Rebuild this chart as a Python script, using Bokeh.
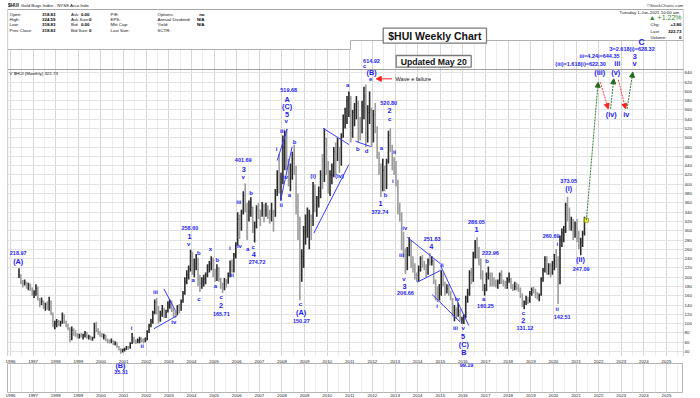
from bokeh.plotting import figure
from bokeh.models import (Range1d, ColumnDataSource, LabelSet, FixedTicker, Grid, Span,
                          Arrow, NormalHead, LinearAxis)
from bokeh.layouts import column
from bokeh.core.properties import value, field
from bokeh.embed import file_html
from bokeh.resources import INLINE

FONT = "Liberation Sans"
BLUE = "#1c1cf0"

# ---------------- monthly $HUI bars, May 1996 .. Jun 2021 ----------------
START_YEAR, START_MONTH = 1996, 5
HIGH = [
    219, 206, 194, 195, 190, 188, 186, 178,                                   # 1996
    172, 185, 180, 155, 156, 150, 145, 148, 158, 150, 124, 106,               # 1997
    110, 108, 106, 124, 120, 106, 100, 92, 94, 90, 86, 80,                    # 1998
    78, 80, 78, 84, 82, 76, 74, 72, 102, 104, 90, 84,                         # 1999
    80, 78, 76, 68, 66, 68, 64, 62, 60, 52, 47, 46,                           # 2000
    48, 52, 52, 60, 80, 72, 66, 68, 72, 70, 68, 70,                           # 2001
    86, 100, 110, 128, 152, 155, 138, 128, 140, 134, 130, 148,                # 2002
    152, 150, 134, 128, 140, 142, 152, 170, 200, 215, 225, 259,               # 2003
    255, 240, 250, 242, 205, 200, 205, 210, 228, 235, 245, 242,               # 2004
    218, 228, 222, 198, 188, 198, 196, 210, 236, 238, 252, 275,               # 2005
    340, 335, 345, 385, 401.69, 360, 365, 372, 352, 320, 355, 360,            # 2006
    345, 362, 358, 360, 355, 345, 360, 345, 390, 430, 465, 425,               # 2007
    505, 515, 519.68, 455, 445, 470, 485, 440, 380, 330, 260, 310,            # 2008
    335, 350, 345, 335, 405, 400, 375, 395, 430, 465, 520, 500,               # 2009
    450, 430, 445, 480, 490, 500, 480, 510, 550, 565, 590, 600,               # 2010
    590, 560, 575, 590, 580, 545, 580, 610, 614.92, 570, 600, 565,            # 2011
    560, 575, 525, 470, 445, 455, 440, 455, 515, 520.80, 485, 458,            # 2012
    450, 410, 360, 340, 298, 262, 265, 286, 280, 245, 230, 210,               # 2013
    225, 245, 248, 235, 228, 240, 251.83, 245, 238, 195, 180, 185,            # 2014
    215, 210, 190, 185, 185, 170, 155, 140, 135, 145, 132, 115,               # 2015
    120, 160, 175, 215, 220, 255, 280, 286.05, 265, 240, 215, 185,            # 2016
    210, 222.96, 210, 210, 200, 195, 195, 210, 215, 195, 192, 200,            # 2017
    210, 198, 185, 190, 188, 185, 178, 165, 150, 160, 158, 170,               # 2018
    178, 180, 175, 168, 165, 200, 220, 245, 245, 230, 230, 235,               # 2019
    250, 260.69, 245, 290, 305, 310, 360, 373.05, 350, 330, 325, 320,         # 2020
    325, 300, 285, 300, 330, 324.59,                                          # 2021
]
LOW = [
    198, 185, 178, 182, 175, 172, 170, 160,
    155, 160, 150, 135, 140, 132, 128, 130, 128, 118, 92, 88,
    92, 95, 94, 100, 100, 92, 86, 60, 64, 74, 72, 68,
    68, 70, 66, 70, 68, 66, 64, 63, 68, 82, 76, 72,
    70, 66, 62, 58, 57, 58, 54, 53, 48, 42, 35.31, 38,
    40, 43, 44, 46, 56, 58, 56, 58, 58, 60, 57, 60,
    64, 80, 92, 100, 120, 120, 100, 104, 115, 112, 112, 124,
    132, 125, 114, 112, 118, 122, 128, 145, 162, 185, 195, 212,
    205, 200, 215, 180, 168, 175, 180, 185, 200, 210, 215, 200,
    190, 192, 190, 175, 165.71, 172, 178, 186, 200, 210, 210, 240,
    268, 282, 300, 335, 340, 280, 320, 330, 295, 274.72, 305, 325,
    310, 330, 318, 330, 325, 315, 320, 298, 330, 375, 380, 365,
    400, 430, 430, 395, 385, 410, 420, 335, 280, 150.27, 190, 220,
    270, 285, 260, 280, 310, 340, 330, 350, 370, 390, 405, 420,
    380, 375, 400, 415, 420, 450, 425, 440, 500, 520, 530, 545,
    490, 500, 525, 540, 490, 495, 510, 540, 480, 490, 530, 480,
    490, 510, 455, 420, 372.74, 385, 385, 390, 445, 470, 430, 420,
    395, 335, 320, 258, 242, 206.66, 215, 245, 220, 210, 195, 190,
    190, 212, 220, 215, 200, 205, 225, 225, 185, 150, 146, 150,
    160, 180, 160, 165, 160, 150, 115, 105, 110, 115, 105, 100,
    99.19, 112, 145, 160, 185, 190, 240, 240, 225, 195, 170, 160.25,
    170, 195, 180, 180, 180, 178, 175, 185, 185, 180, 175, 175,
    188, 175, 170, 172, 172, 168, 155, 135, 131.12, 140, 142, 145,
    160, 165, 155, 152, 148, 160, 190, 210, 205, 205, 200, 205,
    215, 220, 142.51, 185, 265, 275, 295, 320, 300, 300, 280, 285,
    275, 260, 247.09, 265, 290, 318.83,
]
CLOSE = [
    205, 190, 186, 188, 180, 184, 175, 165,
    168, 176, 152, 145, 148, 136, 140, 134, 150, 122, 98, 100,
    104, 99, 102, 116, 104, 96, 90, 66, 86, 80, 76, 72,
    74, 72, 75, 80, 70, 72, 68, 70, 95, 86, 80, 75,
    72, 74, 64, 62, 60, 62, 56, 58, 50, 44, 40, 44,
    45, 50, 47, 56, 70, 62, 60, 64, 66, 64, 62, 66,
    82, 96, 104, 124, 146, 135, 110, 120, 132, 118, 124, 140,
    146, 130, 122, 120, 136, 130, 148, 165, 190, 205, 218, 254,
    220, 228, 240, 195, 186, 190, 196, 205, 224, 228, 238, 215,
    198, 220, 196, 180, 178, 192, 190, 205, 232, 212, 248, 268,
    325, 310, 340, 375, 355, 330, 340, 350, 305, 310, 345, 340,
    335, 345, 340, 345, 335, 325, 340, 335, 385, 425, 400, 415,
    480, 505, 450, 410, 430, 455, 440, 350, 330, 205, 245, 300,
    300, 310, 320, 310, 395, 355, 370, 385, 420, 410, 490, 435,
    395, 420, 420, 470, 465, 480, 450, 505, 545, 555, 580, 585,
    510, 555, 560, 575, 540, 520, 570, 590, 510, 555, 560, 500,
    550, 520, 460, 430, 410, 430, 400, 450, 505, 480, 465, 435,
    400, 345, 335, 270, 255, 225, 255, 270, 230, 225, 200, 195,
    215, 240, 225, 222, 205, 235, 232, 235, 190, 165, 160, 165,
    205, 185, 170, 175, 165, 155, 120, 130, 120, 130, 108, 110,
    115, 155, 165, 210, 200, 250, 270, 245, 235, 205, 175, 175,
    200, 205, 195, 190, 188, 182, 190, 205, 190, 185, 180, 195,
    195, 180, 178, 180, 176, 172, 160, 140, 145, 155, 150, 165,
    172, 170, 165, 160, 160, 195, 215, 238, 215, 225, 210, 230,
    235, 230, 195, 280, 295, 300, 355, 340, 315, 315, 300, 310,
    285, 275, 275, 295, 320, 322.73,
]
assert len(HIGH) == len(LOW) == len(CLOSE)

YEARS = list(range(1996, 2026))
PRICE_TICKS = list(range(40, 641, 20))

# Elliott-wave annotations (year, price)
NUM_LABELS = [
    ("218.97", 1996.34, 252.5), ("258.60", 2003.93, 306.3), ("165.71", 2005.32, 121),
    ("401.69", 2006.29, 451.2), ("274.72", 2006.90, 232.3), ("519.68", 2008.30, 604),
    ("150.27", 2008.86, 106.7), ("614.92", 2011.96, 665), ("520.80", 2012.72, 574.6),
    ("372.74", 2012.33, 341.4), ("206.66", 2013.46, 166.4), ("251.83", 2014.64, 282.6),
    ("286.05", 2016.60, 318.4), ("222.96", 2017.22, 251.6), ("160.25", 2017.00, 137.5),
    ("131.12", 2018.74, 90.2), ("260.69", 2019.90, 289.7), ("142.51", 2020.39, 114),
    ("373.05", 2020.68, 408.1), ("247.09", 2021.23, 218),
    ("(iii)=1.618(i)=622.30", 2021.20, 659.4), ("iii=4.24i=644.35", 2022.04, 677.2),
    ("3=2.618(i)=628.32", 2023.48, 690.2),
]
WAVE_LABELS = [
    ("(A)", 1996.34, 233.8), ("1", 2003.91, 287.6), ("2", 2005.31, 139),
    ("3", 2006.31, 431.2), ("4", 2006.76, 248.8), ("A", 2008.23, 581.9),
    ("(C)", 2008.23, 567.5), ("5", 2008.23, 550.2), ("(A)", 2008.85, 124.6),
    ("(B)", 2011.96, 640), ("1", 2012.36, 358), ("2", 2012.755, 558.8),
    ("3", 2013.42, 180.6), ("4", 2014.60, 266), ("5", 2016.01, 73),
    ("(C)", 2016.04, 55), ("B", 2016.04, 38.5), ("1", 2016.60, 302),
    ("2", 2018.67, 106.7), ("(i)", 2020.68, 390.3), ("(ii)", 2021.20, 237.4),
    ("(iii)", 2022.05, 640), ("(iv)", 2022.56, 550.2), ("(v)", 2022.76, 641.3),
    ("iii", 2022.82, 660.7), ("iv", 2023.22, 550.2), ("3", 2023.60, 675.7),
    ("v", 2023.59, 659.4),
]
BIG_LABELS = [("C", 2023.90, 705.9)]
SUB_LABELS = [
    ("v", 2003.88, 271.9), ("i", 2001.35, 91), ("ii", 2001.82, 50.8), ("iii", 2002.41, 167.7),
    ("iv", 2003.22, 103.1), ("a", 2004.08, 194.4), ("b", 2004.33, 252.5), ("c", 2004.33, 152),
    ("x", 2004.84, 261.1), ("b", 2005.14, 238), ("a", 2005.06, 180.6), ("c", 2005.31, 157),
    ("i", 2005.70, 262.5), ("ii", 2005.80, 205), ("iii", 2006.09, 361), ("iv", 2006.12, 268),
    ("v", 2006.29, 415.2), ("b", 2006.64, 381.7), ("a", 2006.49, 261.1), ("c", 2006.73, 264.6),
    ("i", 2007.76, 476.4), ("ii", 2007.97, 355.8), ("iii", 2008.02, 514.3), ("iv", 2008.16, 415.2),
    ("v", 2008.19, 535.8), ("a", 2008.33, 377.4), ("b", 2008.56, 492), ("c", 2008.82, 141.2),
    ("(i)", 2009.38, 418.3), ("(iv)", 2010.54, 418.3), ("a", 2010.91, 612.7), ("b", 2011.35, 474.9),
    ("c", 2011.66, 654.2), ("d", 2011.74, 470.6), ("e", 2011.92, 627), ("a", 2012.40, 477.7),
    ("b", 2012.58, 377.4), ("c", 2012.76, 541), ("i", 2012.90, 406.6), ("ii", 2012.98, 469.1),
    ("iii", 2013.29, 246.7), ("iv", 2013.43, 306.3), ("v", 2013.39, 196.5), ("i", 2014.86, 139),
    ("ii", 2015.08, 226.6), ("iii", 2015.67, 91), ("iv", 2015.75, 152), ("v", 2016.01, 91),
    ("a", 2016.92, 153.5), ("b", 2017.07, 233.8), ("c", 2018.67, 122.5), ("i", 2020.17, 271.9),
    ("ii", 2020.17, 131.9),
]
# labels printed below the price panel (year, pixels below lower-panel top, size)
LOW_PANEL_LABELS = [("(B)", 2000.86, 1.5, "7.3px"), ("35.31", 2000.89, 8.3, "5.5px"),
                    ("99.19", 2016.16, 1.5, "5.5px")]

# trend lines (x0, y0, x1, y1) in (year, price)
TRENDLINES = [
    (2002.78, 175, 2003.29, 128), (2002.34, 89, 2003.37, 117.5),
    (2007.79, 451, 2008.23, 519), (2007.94, 365, 2008.45, 481),
    (2009.41, 294.7, 2010.96, 442.6), (2009.82, 520.7, 2010.96, 485.6),
    (2011.25, 492.7, 2011.92, 481.3),
    (2013.54, 286, 2015.01, 228.8), (2013.98, 189.2, 2015.01, 214.5),
    (2014.64, 162.7, 2015.89, 103), (2015.01, 225, 2016.26, 96),
]
# projected path
PROJ_UP = [(2021.458, 322.73, 2021.98, 619.8), (2022.53, 562.5, 2022.67, 627.1),
           (2023.26, 562.5, 2023.51, 641.3)]
PROJ_DOWN = [(2022.08, 619.8, 2022.42, 562.5), (2022.87, 624.9, 2023.19, 562.5)]
WAVE_E_ARROW = (2012.87, 627, 2012.17, 627)
WAVE_E_TEXT = ("Wave e failure", 2013.02, 627)

HF = "4.4px"
TXT = "#111111"
# header / box texts in page pixels: (text, x, y, align, style, size, color)
HEADER = [
    ("$HUI", 7.5, 4.6, "left", "bold", "4.7px", "#000000"),
    ("Gold Bugs Index - NYSE Arca Indx", 20.3, 4.6, "left", "normal", HF, TXT),
    ("Open:", 9, 13.7, "left", "normal", HF, TXT),
    ("High:", 9, 19.0, "left", "normal", HF, TXT),
    ("Low:", 9, 24.2, "left", "normal", HF, TXT),
    ("Prev Close:", 9, 29.6, "left", "normal", HF, TXT),
    ("318.83", 55, 13.7, "right", "bold", HF, "#000000"),
    ("324.59", 55, 19.0, "right", "bold", HF, "#000000"),
    ("318.83", 55, 24.2, "right", "bold", HF, "#000000"),
    ("318.83", 55, 29.6, "right", "bold", HF, "#000000"),
    ("Ask:", 70.5, 13.7, "left", "normal", HF, TXT),
    ("Ask Size:", 70.5, 19.0, "left", "normal", HF, TXT),
    ("Bid:", 70.5, 24.2, "left", "normal", HF, TXT),
    ("Bid Size:", 70.5, 29.6, "left", "normal", HF, TXT),
    ("0.00", 89, 13.7, "right", "bold", HF, "#000000"),
    ("0", 91, 19.0, "right", "bold", HF, "#000000"),
    ("0.00", 89, 24.2, "right", "bold", HF, "#000000"),
    ("0", 91, 29.6, "right", "bold", HF, "#000000"),
    ("P/E:", 110, 13.7, "left", "normal", HF, TXT),
    ("EPS:", 110, 19.0, "left", "normal", HF, TXT),
    ("Mkt Cap:", 110, 24.2, "left", "normal", HF, TXT),
    ("Last Size:", 110, 29.6, "left", "normal", HF, TXT),
    ("Options:", 157, 13.7, "left", "normal", HF, TXT),
    ("Annual Dividend:", 157, 19.0, "left", "normal", HF, TXT),
    ("Yield:", 157, 24.2, "left", "normal", HF, TXT),
    ("SCTR:", 157, 29.6, "left", "normal", HF, TXT),
    ("no", 204, 13.7, "right", "bold", HF, "#000000"),
    ("N/A", 204, 19.0, "right", "bold", HF, "#000000"),
    ("N/A", 204, 24.2, "right", "bold", HF, "#000000"),
    ("\u00a9StockCharts.com", 683, 4.8, "right", "normal", HF, "#333333"),
    ("Tuesday  1-Jun-2021  10:00 am", 681, 11.7, "right", "normal", HF, TXT),
    ("\u25b2 +1.22%", 681, 16.8, "right", "normal", "7px", "#2e8b2e"),
    ("Chg:", 650, 24.0, "left", "normal", HF, TXT),
    ("Last:", 650, 30.7, "left", "normal", HF, TXT),
    ("Volume:", 650, 37.2, "left", "normal", HF, TXT),
    ("+3.80", 681, 24.0, "right", "bold", HF, "#000000"),
    ("322.73", 681, 30.7, "right", "bold", HF, "#000000"),
    ("0", 681, 37.2, "right", "bold", HF, "#000000"),
    ("$HUI Weekly Chart", 434.3, 35.4, "center", "bold", "10.5px", "#111111"),
    ("Updated May 20", 433.2, 61.0, "center", "bold", "8.7px", "#111111"),
    ("V $HUI (Monthly) 322.73", 9, 73.0, "left", "normal", HF, TXT),
]
# white header bands and title boxes in page pixels (left, right, top, bottom)
HEADER_BANDS = [(7, 350, 0, 49), (350, 683, 0, 40)]
TITLE_BOXES = [(382.7, 486, 27.7, 42.7), (395.7, 470.7, 55, 66.7)]
HEADER_EDGE_X = [7, 350, 350, 683]
HEADER_EDGE_Y = [49, 49, 40, 40]
TOP_BORDER_X = [7, 7, 683, 683]
TOP_BORDER_Y = [356, 9, 9, 356]
TOP_RULE_PRICE = 647.1

# data ranges of the price frame (page x 7..683, y 0..356)
X0, X1 = 1995.867, 2025.752
Y0, Y1 = 29.24, 795.65

# ---------------- price panel ----------------
p = figure(frame_width=676, frame_height=356, x_range=Range1d(X0, X1), y_range=Range1d(Y0, Y1),
           x_axis_location=None, y_axis_location="right", toolbar_location=None,
           output_backend="svg", min_border=0, min_border_left=7, title=None,
           background_fill_color="white", border_fill_color="white",
           outline_line_color=None)
p.extra_x_ranges = {"px": Range1d(7, 683)}
p.extra_y_ranges = {"px": Range1d(356, 0)}

p.xgrid.visible = False
p.ygrid.visible = False
p.add_layout(Grid(dimension=0, ticker=FixedTicker(ticks=[y + 0.5 for y in YEARS]),
                  grid_line_color="#ededed", grid_line_width=1))
p.add_layout(Grid(dimension=0, ticker=FixedTicker(ticks=YEARS),
                  grid_line_color="#d6d6d6", grid_line_width=1))
p.add_layout(Grid(dimension=1, ticker=FixedTicker(ticks=PRICE_TICKS),
                  grid_line_color="#e3e3e3", grid_line_width=1))

ya = p.yaxis[0]
ya.ticker = FixedTicker(ticks=PRICE_TICKS)
ya.major_label_text_font = FONT
ya.major_label_text_font_size = "4.4px"
ya.major_label_text_color = "#222222"
ya.major_label_standoff = 1
ya.major_tick_out = 0
ya.major_tick_in = 0
ya.minor_tick_out = 0
ya.minor_tick_in = 0
ya.major_tick_line_color = None
ya.minor_tick_line_color = None
ya.axis_line_color = None

p.add_layout(Span(location=TOP_RULE_PRICE, dimension="width", line_color="#a0a0a0", line_width=1))

xs = [START_YEAR + (START_MONTH - 1 + i + 0.5) / 12.0 for i in range(len(CLOSE))]
colors = ["#2b2b2b" if (i == 0 or CLOSE[i] >= CLOSE[i - 1]) else "#9c9c9c" for i in range(len(CLOSE))]
bars = ColumnDataSource(dict(x=xs, xr=[x + 0.42 / 12 for x in xs], high=HIGH, low=LOW,
                             close=CLOSE, color=colors))
p.segment(x0="x", y0="low", x1="x", y1="high", line_color="color", line_width=1.6, source=bars)
p.segment(x0="x", y0="close", x1="xr", y1="close", line_color="color", line_width=1, source=bars)

tl = ColumnDataSource(dict(x0=[t[0] for t in TRENDLINES], y0=[t[1] for t in TRENDLINES],
                           x1=[t[2] for t in TRENDLINES], y1=[t[3] for t in TRENDLINES]))
p.segment(x0="x0", y0="y0", x1="x1", y1="y1", line_color="#3a3aff", line_width=1, source=tl)

# projection
for segs, col, head_col in ((PROJ_UP, "#2f7d2f", "#1f6b1f"), (PROJ_DOWN, "#ff3b3b", "#ff2020")):
    src = ColumnDataSource(dict(x0=[s[0] for s in segs], y0=[s[1] for s in segs],
                                x1=[s[2] for s in segs], y1=[s[3] for s in segs]))
    p.add_layout(Arrow(end=NormalHead(size=5, fill_color=head_col, line_color=head_col),
                       source=src, x_start="x0", y_start="y0", x_end="x1", y_end="y1",
                       line_color=col, line_width=1, line_dash="2 1"))
p.scatter(x=[xs[-1]], y=[CLOSE[-1]], marker="square", size=4, fill_color="#ffff33",
          line_color="#8a8a00", line_width=0.8)

p.add_layout(Arrow(end=NormalHead(size=5, fill_color="#ff2020", line_color="#ff2020"),
                   x_start=WAVE_E_ARROW[0], y_start=WAVE_E_ARROW[1],
                   x_end=WAVE_E_ARROW[2], y_end=WAVE_E_ARROW[3],
                   line_color="#ff2020", line_width=1))

# header bands, border and boxes
p.quad(left=[b[0] for b in HEADER_BANDS], right=[b[1] for b in HEADER_BANDS],
       top=[b[2] for b in HEADER_BANDS], bottom=[b[3] for b in HEADER_BANDS],
       fill_color="white", line_color=None, x_range_name="px", y_range_name="px")
p.line(x=HEADER_EDGE_X, y=HEADER_EDGE_Y, line_color="#b0b0b0", line_width=1,
       x_range_name="px", y_range_name="px")
p.line(x=TOP_BORDER_X, y=TOP_BORDER_Y, line_color="#a8a8a8", line_width=1.2,
       x_range_name="px", y_range_name="px")
p.add_layout(Span(location=Y0, dimension="width", line_color="#a8a8a8", line_width=1.2))
p.quad(left=[b[0] for b in TITLE_BOXES], right=[b[1] for b in TITLE_BOXES],
       top=[b[2] for b in TITLE_BOXES], bottom=[b[3] for b in TITLE_BOXES],
       fill_color="white", line_color="#7a7a7a", line_width=1.3,
       x_range_name="px", y_range_name="px")

hs = ColumnDataSource(dict(text=[h[0] for h in HEADER], x=[h[1] for h in HEADER],
                           y=[h[2] for h in HEADER], align=[h[3] for h in HEADER],
                           style=[h[4] for h in HEADER], size=[h[5] for h in HEADER],
                           color=[h[6] for h in HEADER]))
p.add_layout(LabelSet(x="x", y="y", text="text", source=hs, x_range_name="px", y_range_name="px",
                      text_font=value(FONT), text_font_size=field("size"),
                      text_font_style=field("style"), text_align=field("align"),
                      text_color=field("color"), text_baseline="middle"))


def add_labels(items, size, color=BLUE, align="center", style="bold"):
    src = ColumnDataSource(dict(text=[t[0] for t in items], x=[t[1] for t in items],
                                y=[t[2] for t in items]))
    p.add_layout(LabelSet(x="x", y="y", text="text", source=src, text_font=value(FONT),
                          text_font_size=value(size), text_font_style=style,
                          text_color=color, text_align=align, text_baseline="middle"))


add_labels(NUM_LABELS, "5.5px")
add_labels(WAVE_LABELS, "7.3px")
add_labels(BIG_LABELS, "8.5px")
add_labels(SUB_LABELS, "6px")
add_labels([WAVE_E_TEXT], "5.6px", color="#111111", align="left", style="normal")

# ---------------- lower (empty indicator) panel ----------------
q = figure(frame_width=676, frame_height=29, x_range=p.x_range, y_range=Range1d(29, 0),
           x_axis_location="below", y_axis_location=None, toolbar_location=None,
           output_backend="svg", min_border=0, min_border_left=7, title=None,
           background_fill_color="white", border_fill_color="white",
           outline_line_color="#b4b4b4")
q.xgrid.visible = False
q.ygrid.visible = False
q.add_layout(Grid(dimension=0, ticker=FixedTicker(ticks=[y + 0.5 for y in YEARS]),
                  grid_line_color="#ededed", grid_line_width=1))
q.add_layout(Grid(dimension=0, ticker=FixedTicker(ticks=YEARS),
                  grid_line_color="#d6d6d6", grid_line_width=1))
q.add_layout(LinearAxis(), "above")
for ax in q.xaxis:
    ax.ticker = FixedTicker(ticks=YEARS)
    ax.major_label_text_font = FONT
    ax.major_label_text_font_size = "4.4px"
    ax.major_label_text_color = "#222222"
    ax.major_label_standoff = 1
    ax.major_tick_out = 0
    ax.major_tick_in = 0
    ax.minor_tick_out = 0
    ax.minor_tick_in = 0
    ax.major_tick_line_color = None
    ax.minor_tick_line_color = None
    ax.axis_line_color = None

for text, x, y, size in LOW_PANEL_LABELS:
    src = ColumnDataSource(dict(text=[text], x=[x], y=[y]))
    q.add_layout(LabelSet(x="x", y="y", text="text", source=src, text_font=value(FONT),
                          text_font_size=value(size), text_font_style="bold",
                          text_color=BLUE, text_align="center", text_baseline="middle"))

layout = column(p, q)
open("out.html", "w").write(file_html(layout, INLINE))
